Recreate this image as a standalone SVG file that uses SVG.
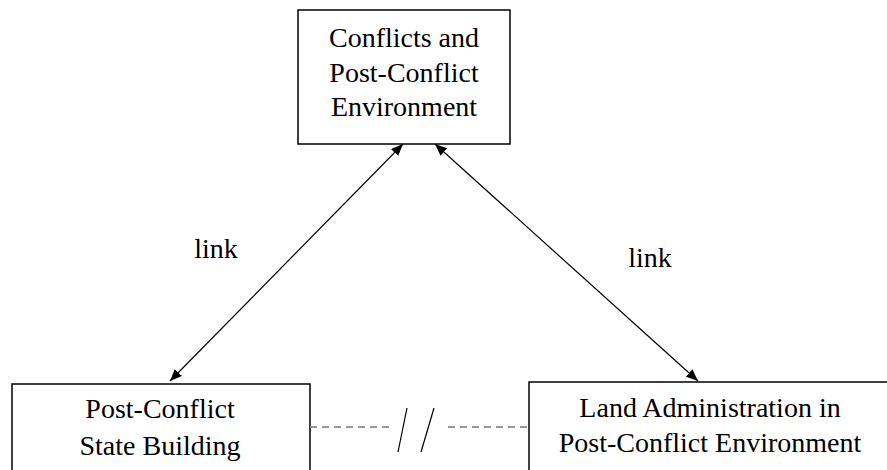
<svg xmlns="http://www.w3.org/2000/svg" width="887" height="470" viewBox="0 0 887 470">
<style>
.box{fill:#fff;stroke:#000;stroke-width:1.5}
.t{font-family:"Liberation Serif","Times New Roman",serif;font-size:28px;fill:#000;text-anchor:middle}
.arr{stroke:#000;stroke-width:1.2;fill:none;marker-start:url(#ah);marker-end:url(#ah)}
.dash{stroke:#777;stroke-width:1.3;stroke-dasharray:7,5;fill:none}
.sl{stroke:#000;stroke-width:1.2}
</style>
<defs>
<marker id="ah" viewBox="0 0 12 10" refX="12" refY="5" markerWidth="12" markerHeight="10" markerUnits="userSpaceOnUse" orient="auto-start-reverse">
<path d="M0,0 L12,5 L0,10 z" fill="#000"/>
</marker>
</defs>
<rect width="887" height="470" fill="#fff"/>
<g id="conflicts">
<rect class="box" x="298" y="10" width="212" height="134"/>
<text class="t" x="404" y="47">Conflicts and</text>
<text class="t" x="404" y="81.5">Post-Conflict</text>
<text class="t" x="404" y="116">Environment</text>
</g>
<g id="statebuilding">
<rect class="box" x="12" y="384" width="298" height="100"/>
<text class="t" x="160" y="418">Post-Conflict</text>
<text class="t" x="160" y="455">State Building</text>
</g>
<g id="landadmin">
<rect class="box" x="529" y="382" width="372" height="100"/>
<text class="t" x="710" y="416.5">Land Administration in</text>
<text class="t" x="710" y="452">Post-Conflict Environment</text>
</g>
<g id="connectors">
<line class="arr" x1="170" y1="381" x2="403" y2="144"/>
<line class="arr" x1="435" y1="144" x2="698" y2="381"/>
<line class="dash" x1="310" y1="427" x2="390" y2="427"/>
<line class="dash" x1="448" y1="427" x2="528" y2="427"/>
<line class="sl" x1="398" y1="452" x2="407" y2="408"/>
<line class="sl" x1="421" y1="452" x2="434" y2="408"/>
<text class="t" x="216" y="258">link</text>
<text class="t" x="650" y="267">link</text>
</g>
</svg>
